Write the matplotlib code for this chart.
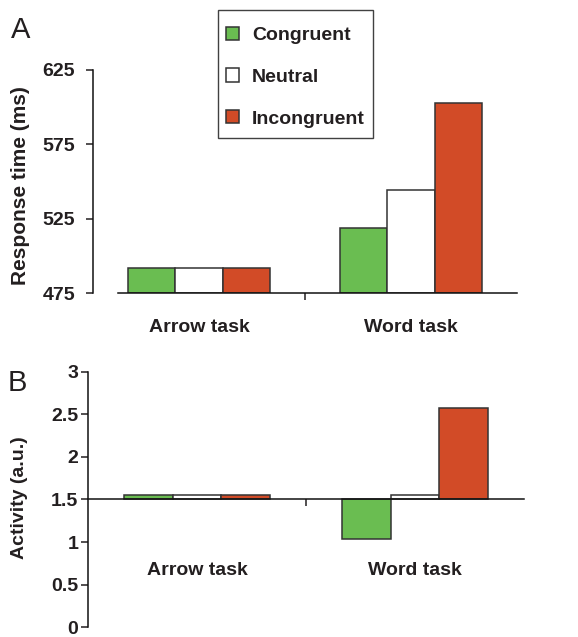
import matplotlib.pyplot as plt
import numpy as np
from matplotlib.path import Path

# --- Data ---
tasks = ["Arrow task", "Word task"]
conditions = ["Congruent", "Neutral", "Incongruent"]
rt_congruent = [492, 519]
rt_neutral = [492, 544]
rt_incongruent = [492, 603]
act_congruent = [1.55, 1.04]
act_neutral = [1.55, 1.555]
act_incongruent = [1.55, 2.57]
rt_ticks = [475, 525, 575, 625]
act_ticks = [0, 0.5, 1, 1.5, 2, 2.5, 3]
act_tick_labels = ["0", "0.5", "1", "1.5", "2", "2.5", "3"]
act_baseline = 1.5

GREEN = "#6abd51"
RED = "#d24b27"
EDGE = "#333333"
TEXT = "#231f20"
COLORS = [GREEN, "#ffffff", RED]

plt.rcParams["font.family"] = ["Liberation Sans", "DejaVu Sans"]
plt.rcParams["font.weight"] = "bold"
plt.rcParams["text.color"] = TEXT
plt.rcParams["axes.labelcolor"] = TEXT
plt.rcParams["xtick.color"] = TEXT
plt.rcParams["ytick.color"] = TEXT

W, H = 578, 637
fig = plt.figure(figsize=(W / 100, H / 100), dpi=100)

x = np.arange(len(tasks))
bw = 0.222
offsets = [-bw, 0, bw]


def style_axis(ax, ypad):
    ax.spines["top"].set_visible(False)
    ax.spines["right"].set_visible(False)
    for s in ("left", "bottom"):
        ax.spines[s].set_linewidth(1.1)
        ax.spines[s].set_color("#111111")
    ax.tick_params(axis="y", length=5, width=1.1, labelsize=14, pad=ypad)
    ax.tick_params(axis="x", which="major", length=5, width=1.1, labelbottom=False)
    ax.set_xlim(-0.5, 1.5)
    ax.set_xticks([0.5])
    for lab in ax.get_yticklabels():
        lab.set_fontweight("bold")


# --- Panel A: response times ---
axA = fig.add_axes([93 / W, 1 - 293 / H, 424 / W, 223 / H])
rt_series = [rt_congruent, rt_neutral, rt_incongruent]
bars = []
for vals, off, col, name in zip(rt_series, offsets, COLORS, conditions):
    b = axA.bar(x + off, np.array(vals) - 475, bw, bottom=475, color=col,
                edgecolor=EDGE, linewidth=1.1, label=name, zorder=2)
    bars.append(b)
axA.set_ylim(475, 625)
axA.set_yticks(rt_ticks)
style_axis(axA, 8)
axA.spines["bottom"].set_bounds(-0.38, 1.5)
axA.set_xticks(x, minor=True)
axA.set_xticklabels(tasks, minor=True, fontsize=14, fontweight="bold")
axA.tick_params(axis="x", which="minor", length=0, pad=19)
axA.set_ylabel("Response time (ms)", fontsize=15, fontweight="bold")
axA.yaxis.set_label_coords(-0.170, 0.484)
axA.yaxis.label.set_verticalalignment("center")

# --- Panel B: activity ---
axB = fig.add_axes([88 / W, 1 - 627.3 / H, 436 / W, 255.6 / H])
act_series = [act_congruent, act_neutral, act_incongruent]
for vals, off, col in zip(act_series, offsets, COLORS):
    axB.bar(x + off, np.array(vals) - act_baseline, bw, bottom=act_baseline,
            color=col, edgecolor=EDGE, linewidth=1.1, zorder=2)
axB.set_ylim(0, 3)
axB.set_yticks(act_ticks)
axB.set_yticklabels(act_tick_labels)
style_axis(axB, 2)
axB.spines["bottom"].set_position(("data", act_baseline))
axB.spines["bottom"].set_zorder(3)
for xi, t in zip(x, tasks):
    axB.text(xi, 0.665, t, ha="center", va="center", fontsize=14,
             fontweight="bold")
axB.set_ylabel("Activity (a.u.)", fontsize=14, fontweight="bold")
axB.yaxis.set_label_coords(-0.157, 0.506)
axB.yaxis.label.set_verticalalignment("center")

# panel letters
fig.text(21 / W, 1 - 30 / H, "A", fontsize=21, fontweight="normal",
         ha="center", va="center")
fig.text(17 / W, 1 - 383 / H, "B", fontsize=21, fontweight="normal",
         ha="center", va="center")


# legend frame: trim the sides a little, the rows need more room than the sides
def legend_box(x0, y0, width, height, mutation_size):
    dx, top, bot = 7, 2, -4
    x1, y1 = x0 + width - dx, y0 + height + top
    x0, y0 = x0 + dx, y0 - bot
    return Path([(x0, y0), (x1, y0), (x1, y1), (x0, y1), (x0, y0)], closed=True)


leg = fig.legend(handles=bars, labels=conditions, loc="upper left",
                 bbox_to_anchor=(211 / W, 1 - 12 / H), borderaxespad=0,
                 fontsize=14, frameon=True, fancybox=False, edgecolor="#111111",
                 handlelength=0.67, handleheight=0.67, handletextpad=0.7,
                 labelspacing=1.25, borderpad=0.75)
leg.get_frame().set_linewidth(1.0)
leg.get_frame().set_boxstyle(legend_box)
for t in leg.get_texts():
    t.set_fontweight("bold")

fig.savefig("out.png", dpi=100)
